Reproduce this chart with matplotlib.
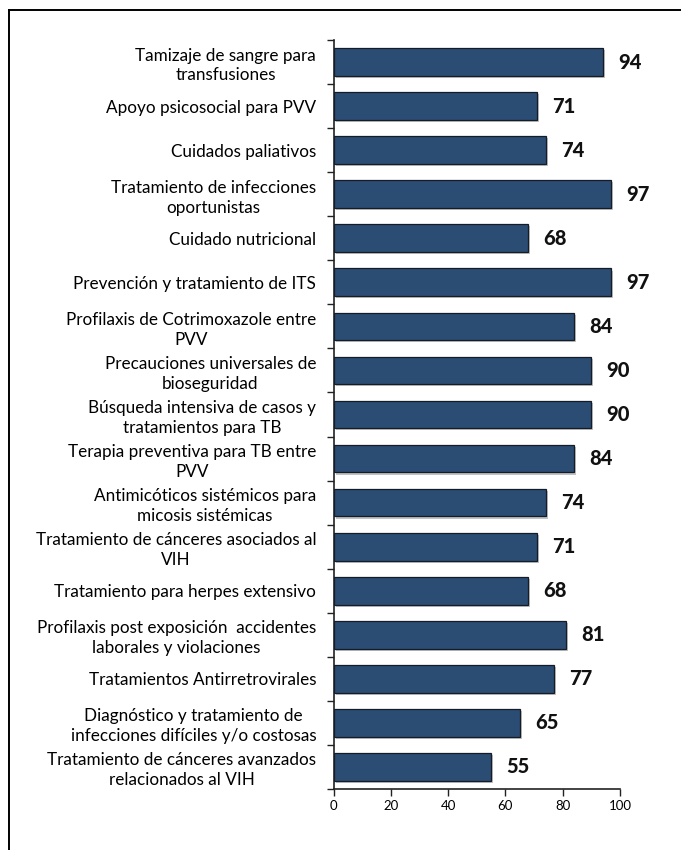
import matplotlib
matplotlib.use("Agg")
import matplotlib.pyplot as plt
import matplotlib.patheffects as pe
from matplotlib.lines import Line2D
import numpy as np

plt.rcParams['font.family'] = ['Lato', 'DejaVu Sans']

categories = [
    "Tamizaje de sangre para\ntransfusiones",
    "Apoyo psicosocial para PVV",
    "Cuidados paliativos",
    "Tratamiento de infecciones\noportunistas",
    "Cuidado nutricional",
    "Prevención y tratamiento de ITS",
    "Profilaxis de Cotrimoxazole entre\nPVV",
    "Precauciones universales de\nbioseguridad",
    "Búsqueda intensiva de casos y\ntratamientos para TB",
    "Terapia preventiva para TB entre\nPVV",
    "Antimicóticos sistémicos para\nmicosis sistémicas",
    "Tratamiento de cánceres asociados al\nVIH",
    "Tratamiento para herpes extensivo",
    "Profilaxis post exposición  accidentes\nlaborales y violaciones",
    "Tratamientos Antirretrovirales",
    "Diagnóstico y tratamiento de\ninfecciones difíciles y/o costosas",
    "Tratamiento de cánceres avanzados\nrelacionados al VIH",
]
values = [94, 71, 74, 97, 68, 97, 84, 90, 90, 84, 74, 71, 68, 81, 77, 65, 55]
xticks = [0, 20, 40, 60, 80, 100]

W, H = 681, 850
fig = plt.figure(figsize=(W / 100, H / 100), dpi=100)
ax = fig.add_axes([333.5 / W, 1 - 789 / H, (620 - 333.5) / W, (789 - 40) / H])

y = np.arange(len(categories))
bars = ax.barh(y, values, height=0.63, color="#2B4D73", edgecolor="#141c28",
               linewidth=0.9, zorder=3)
for b in bars:
    b.set_path_effects([pe.SimplePatchShadow(offset=(1.5, -1.5), shadow_rgbFace="#9a9a9a", alpha=0.6),
                        pe.Normal()])

for yi, v in zip(y, values):
    ax.annotate(str(v), xy=(v, yi), xytext=(11, 0), textcoords="offset points",
                ha="left", va="center", fontsize=14.5, fontweight="black", color="#111111")

ax.set_xlim(0, 100)
ax.set_ylim(len(categories) - 0.5, -0.5)
ax.set_xticks(xticks)
ax.set_xticklabels([str(t) for t in xticks], fontsize=9.5)

# category boundaries carry the tick marks; labels sit at bar centres
ax.set_yticks(np.arange(len(categories) + 1) - 0.5)
ax.set_yticklabels([])
ax.set_yticks(y, minor=True)
ax.set_yticklabels(categories, minor=True, fontsize=12.3, multialignment="center",
                   linespacing=1.3)
ax.tick_params(axis="y", which="major", direction="out", length=5, width=1, color="#222222")
ax.tick_params(axis="y", which="minor", length=0, pad=12.5)
ax.tick_params(axis="x", direction="out", length=5, width=1, color="#222222", pad=3)

for s in ("top", "right"):
    ax.spines[s].set_visible(False)
for s in ("left", "bottom"):
    ax.spines[s].set_linewidth(1.2)
    ax.spines[s].set_color("#222222")

# frame lines along the left and top edges of the figure
fig.add_artist(Line2D([8.5 / W, 8.5 / W], [0, 1 - 9.5 / H], transform=fig.transFigure,
                      color="black", linewidth=1.4))
fig.add_artist(Line2D([8.5 / W, 1], [1 - 9.5 / H, 1 - 9.5 / H], transform=fig.transFigure,
                      color="black", linewidth=1.4))

fig.savefig("out.png", dpi=100)
